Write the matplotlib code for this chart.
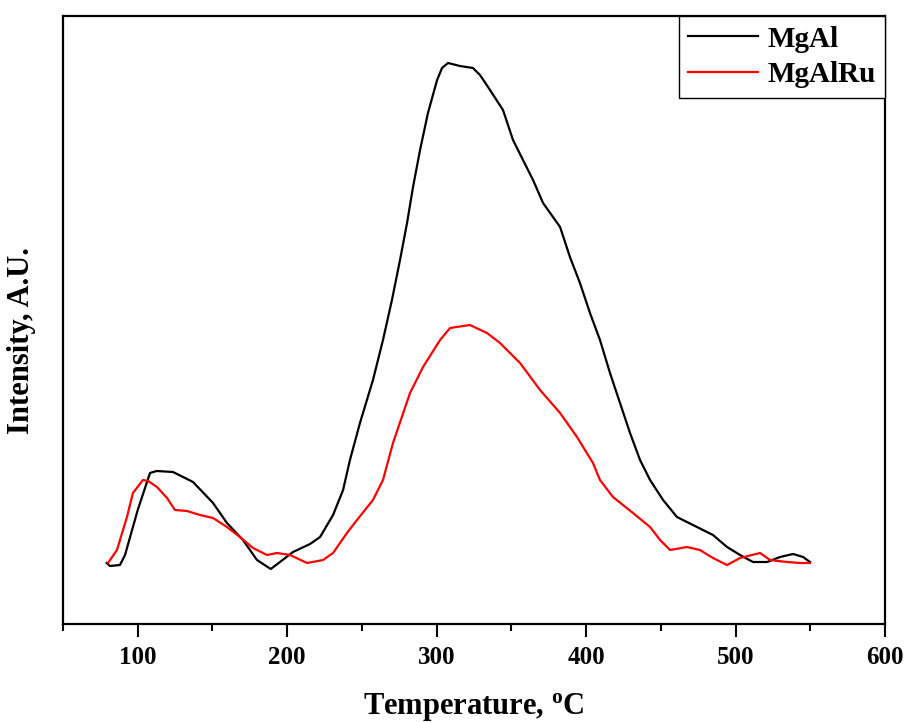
import matplotlib
matplotlib.use("Agg")
import matplotlib.pyplot as plt
from matplotlib.ticker import MultipleLocator

plt.rcParams['font.family'] = ['Liberation Serif', 'DejaVu Serif']
plt.rcParams['font.weight'] = 'bold'
plt.rcParams['mathtext.fontset'] = 'custom'
plt.rcParams['mathtext.rm'] = 'Liberation Serif:bold'
plt.rcParams['mathtext.it'] = 'Liberation Serif:bold'

temp_mgal = [79.2, 81.4, 88.1, 91.5, 100.0, 108.2, 112.7, 123.6, 137.0, 150.4,
             159.7, 170.4, 179.8, 189.0, 195.2, 203.9, 215.3, 222.0, 230.7, 237.4,
             242.0, 248.7, 257.4, 264.1, 270.1, 275.5, 280.2, 284.2, 288.9, 294.2,
             300.3, 303.6, 307.6, 315.6, 324.3, 329.0, 334.4, 344.4, 351.1, 357.8,
             364.5, 371.2, 382.6, 389.2, 395.9, 402.6, 409.3, 416.0, 422.7, 429.4,
             436.1, 442.8, 451.5, 460.8, 474.2, 484.9, 494.3, 503.0, 511.7, 521.1,
             529.8, 538.5, 545.2, 549.8]
int_mgal = [61, 58, 59, 69, 114, 151, 153, 152, 142, 121,
            101, 84, 64, 55, 62, 72, 80, 87, 109, 134,
            164, 201, 244, 284, 324, 364, 401, 437, 474, 511,
            544, 556, 561, 558, 556, 549, 537, 514, 484, 464,
            444, 421, 397, 367, 341, 311, 284, 251, 221, 191,
            164, 144, 124, 107, 97, 89, 77, 69, 62, 62,
            67, 70, 67, 62]

temp_mgalru = [80.1, 86.1, 92.8, 96.8, 103.5, 106.9, 112.9, 119.6, 124.9, 133.0,
               141.7, 150.4, 159.7, 168.4, 177.1, 186.5, 193.2, 201.9, 213.3, 224.0,
               230.7, 240.0, 246.7, 257.4, 264.1, 270.8, 282.2, 290.9, 302.3, 309.0,
               322.3, 333.7, 342.4, 355.8, 369.2, 382.6, 393.9, 404.6, 409.3, 418.0,
               431.4, 442.8, 449.5, 456.2, 467.5, 476.2, 484.9, 494.3, 503.0, 516.4,
               523.1, 534.5, 543.2, 549.8]
int_mgalru = [61, 74, 107, 131, 144, 143, 137, 126, 114, 113,
              109, 106, 97, 87, 76, 69, 71, 69, 61, 64,
              71, 91, 104, 124, 144, 181, 231, 257, 284, 296,
              299, 291, 281, 261, 234, 211, 187, 161, 144, 127,
              111, 97, 84, 74, 77, 74, 66, 59, 66, 71,
              64, 62, 61, 61]

fig = plt.figure(figsize=(9.05, 7.22), dpi=100)
ax = fig.add_axes([63/905, 98/722, 822/905, 608/722])

ax.plot(temp_mgal, int_mgal, color='black', lw=1.6, label='MgAl')
ax.plot(temp_mgalru, int_mgalru, color='red', lw=1.6, label='MgAlRu')

ax.set_xlim(50, 600)
ax.set_ylim(0, 608)
ax.xaxis.set_minor_locator(MultipleLocator(50))
ax.set_xticks([100, 200, 300, 400, 500, 600])
ax.set_yticks([])
ax.tick_params(axis='x', which='major', direction='out', length=9, width=1.5,
               labelsize=18, pad=7)
ax.tick_params(axis='x', which='minor', direction='out', length=5, width=1.5)
for s in ax.spines.values():
    s.set_linewidth(1.6)

ax.set_xlabel('Temperature, $^\\mathrm{o}$C', fontsize=22, fontweight='bold', labelpad=16)
ax.set_ylabel('Intensity, A.U.', fontsize=22, fontweight='bold')
ax.yaxis.set_label_coords(-0.033, 0.467)

leg = ax.legend(loc='upper right', borderaxespad=0, fancybox=False,
                edgecolor='black', framealpha=1,
                handlelength=2.4, handletextpad=0.3, labelspacing=0.3,
                borderpad=0.33, prop={'weight': 'bold', 'size': 21})
leg.get_frame().set_linewidth(1.0)

fig.savefig('out.png', dpi=100)
